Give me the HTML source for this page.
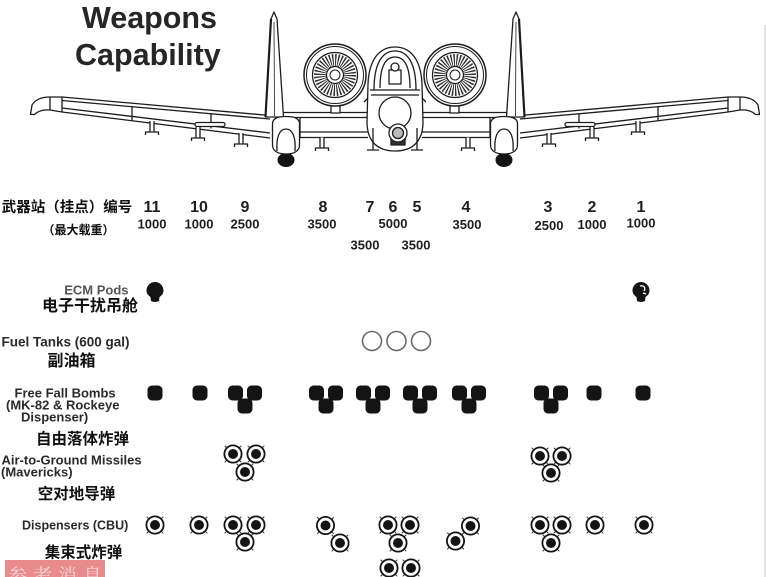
<!DOCTYPE html>
<html><head><meta charset="utf-8"><style>
html,body{margin:0;padding:0;background:#fff;width:766px;height:577px;overflow:hidden;}
svg{display:block;}
text{font-family:"Liberation Sans","Noto Sans CJK SC",sans-serif;font-weight:bold;}
</style></head><body>
<svg width="766" height="577" viewBox="0 0 766 577" xmlns="http://www.w3.org/2000/svg">
<defs>
  <g id="bm"><rect x="-7.5" y="-7.5" width="15" height="15" rx="4.5" fill="#141414"/></g>
  <g id="tri">
    <use href="#bm" x="-9.5" y="0"/><use href="#bm" x="9.5" y="0"/><use href="#bm" x="0" y="13"/>
  </g>
  <g id="c">
    <path d="M-6 -6 L-8.3 -8.3 M6 -6 L8.3 -8.3 M-6 6 L-8.3 8.3 M6 6 L8.3 8.3" stroke="#333" stroke-width="1" fill="none"/>
    <circle r="8.6" fill="#fff" stroke="#141414" stroke-width="1.8"/>
    <circle r="5" fill="#141414"/>
  </g>
  <g id="half" fill="none" stroke="#1c1c1c" stroke-width="1.3" stroke-linejoin="round">
    <path d="M62 97 L270 115.5 M62 100.5 L270 119 M62 108 L270 133 M62 112 L270 138"/>
    <path d="M62 97 L50 97 C41 97 35 100 32 105 L30.5 114.5 L34.5 114.5 C38 111 43 109.5 50 110 L62 112" fill="#fff"/>
    <path d="M50 97 L50 110 M62 97 L62 112 M132 106 L132 121 M211 113.5 L211 128.5"/>
    <path d="M270 112.5 L368 112.5 M283 117.5 L368 117.5 M300 132 L368 132 M300 137.5 L368 137.5 M300 117.5 L300 137.5"/>
    <path d="M274 12 L277 19 L283.5 117 L265.5 117 L271 19 Z" fill="#fff"/>
    <path d="M274 22 L274.5 116" stroke-width="0.8"/>
    <path d="M271 19 L265.5 117" stroke-width="2.2"/>
    <rect x="331" y="103" width="9" height="10" fill="#fff"/>
    <circle cx="335" cy="75" r="31" fill="#fff" stroke-width="1.5"/>
    <circle cx="335" cy="75" r="28.5" stroke-width="1"/>
    <circle cx="335" cy="75" r="22.5" stroke-width="1.2"/>
    <circle cx="335" cy="75" r="15" stroke="#2a2a2a" stroke-width="12" stroke-dasharray="1.2 1.418"/>
    <circle cx="335" cy="75" r="8.5" fill="#fff" stroke-width="1.2"/>
    <circle cx="335" cy="75" r="5" stroke-width="1"/>
    <ellipse cx="286" cy="160" rx="8.5" ry="7" fill="#141414" stroke="none"/>
    <path d="M272.5 124 C272.5 118 278 116.5 286 116.5 C294 116.5 299.5 118 299.5 124 L299.5 145 C299.5 151 294 154 286 154 C278 154 272.5 151 272.5 145 Z" fill="#fff"/>
    <path d="M277 151 C276 136 280 129 286 129 C292 129 296 136 295 151"/>
    <g fill="#fff">
      <path d="M150 121 V132 H154 V121 M145.5 135 V132 H158.5 V135"/>
      <rect x="195" y="122.5" width="30" height="4" rx="2"/>
      <path d="M196 127 V138 H200 V127 M191.5 141 V138 H204.5 V141"/>
      <path d="M239 133 V144 H243 V133 M234.5 147 V144 H247.5 V147"/>
      <path d="M320 137.5 V148 H324 V137.5 M315.5 151 V148 H328.5 V151"/>
    </g>
  </g>
</defs>

<text x="82" y="28" font-size="30.5" fill="#262626">Weapons</text>
<text x="75" y="65" font-size="30.5" fill="#262626">Capability</text>

<use href="#half"/>
<use href="#half" transform="translate(790,0) scale(-1,1)"/>
<g fill="none" stroke="#1c1c1c" stroke-width="1.3" stroke-linejoin="round">
  <path d="M395 47 C379 47 369 60 368 84 L367 122 C367 142 378 151 395 151 C412 151 423 142 423 122 L422 84 C421 60 411 47 395 47 Z" fill="#fff"/>
  <path d="M374 90 C374 62 383 51 395 51 C407 51 416 62 416 90"/>
  <path d="M380 88 C380 66 386 57 395 57 C404 57 410 66 410 88"/>
  <path d="M370 90 L420 90 M371 95 L419 95"/>
  <rect x="389" y="70" width="12" height="14" fill="#fff"/>
  <circle cx="395" cy="67" r="4" fill="#fff"/>
  <path d="M368 98 l-4 4 M422 98 l4 4"/>
  <circle cx="395" cy="113" r="16" fill="#fff"/>
  <rect x="391" y="139" width="14" height="6" fill="#333"/>
  <circle cx="398" cy="133" r="9" fill="#fff"/>
  <circle cx="398" cy="133" r="5.5" fill="#bbb"/>
  <path d="M373 128 V150 M367 150 H379 M417 128 V150 M411 150 H423"/>
</g>
<line x1="765" y1="25" x2="765" y2="577" stroke="#dcdcdc" stroke-width="1.5"/>

<text x="67" y="212" font-size="14.5" text-anchor="middle" fill="#111">武器站（挂点）编号</text>
<text x="78.5" y="234" font-size="12" text-anchor="middle" fill="#111">（最大载重）</text>

<g font-size="16" text-anchor="middle" fill="#1e1e1e">
  <text x="152" y="212">11</text>
  <text x="199" y="212">10</text>
  <text x="245" y="212">9</text>
  <text x="323" y="212">8</text>
  <text x="370" y="212">7</text>
  <text x="393" y="212">6</text>
  <text x="417" y="212">5</text>
  <text x="466" y="212">4</text>
  <text x="548" y="212">3</text>
  <text x="592" y="212">2</text>
  <text x="641" y="212">1</text>
</g>
<g font-size="13" text-anchor="middle" fill="#1e1e1e">
  <text x="152" y="228.5">1000</text>
  <text x="199" y="228.5">1000</text>
  <text x="245" y="228.5">2500</text>
  <text x="322" y="228.5">3500</text>
  <text x="393" y="228">5000</text>
  <text x="467" y="229">3500</text>
  <text x="549" y="230">2500</text>
  <text x="592" y="229">1000</text>
  <text x="641" y="227.5">1000</text>
  <text x="365" y="249.5">3500</text>
  <text x="416" y="249.5">3500</text>
</g>

<text x="128.5" y="294.3" font-size="13" text-anchor="end" fill="#555">ECM Pods</text>
<text x="90" y="311" font-size="16" text-anchor="middle" fill="#111">电子干扰吊舱</text>
<path d="M155 282 C160 282 163.5 286 163.5 290.5 C163.5 294 161 296 159.5 297 L159 301 Q155 303 151 301 L150.5 297 C149 296 146.5 294 146.5 290.5 C146.5 286 150 282 155 282 Z" fill="#141414"/>
<path d="M641 282 C646 282 649.5 286 649.5 290.5 C649.5 294 647 296 645.5 297 L645 301 Q641 303 637 301 L636.5 297 C635 296 632.5 294 632.5 290.5 C632.5 286 636 282 641 282 Z" fill="#141414"/>
<path d="M640 286 C644 285 646 288 644 291 M643 293 L646 294" stroke="#fff" stroke-width="1.3" fill="none"/>

<text x="1.5" y="346.7" font-size="13.5" fill="#2a2a2a">Fuel Tanks (600 gal)</text>
<text x="71.5" y="366" font-size="16" text-anchor="middle" fill="#111">副油箱</text>
<g fill="none" stroke="#6a6a6a" stroke-width="1.6">
  <circle cx="372" cy="341" r="9.5"/>
  <circle cx="396.5" cy="341" r="9.5"/>
  <circle cx="421" cy="341" r="9.5"/>
</g>

<g font-size="13" fill="#2a2a2a">
  <text x="14.5" y="397.3">Free Fall Bombs</text>
  <text x="6" y="409.3">(MK-82 &amp; Rockeye</text>
  <text x="21" y="421.3">Dispenser)</text>
</g>
<text x="82.5" y="444" font-size="15.5" text-anchor="middle" fill="#111">自由落体炸弹</text>
<use href="#bm" x="155" y="393"/>
<use href="#bm" x="200" y="393"/>
<use href="#tri" x="245" y="393"/>
<use href="#tri" x="326" y="393"/>
<use href="#tri" x="373" y="393"/>
<use href="#tri" x="420" y="393"/>
<use href="#tri" x="469" y="393"/>
<use href="#tri" x="551" y="393"/>
<use href="#bm" x="594" y="393"/>
<use href="#bm" x="643" y="393"/>

<g font-size="13" fill="#2a2a2a">
  <text x="1.5" y="464.3">Air-to-Ground Missiles</text>
  <text x="1" y="476.3">(Mavericks)</text>
</g>
<text x="76.5" y="499" font-size="15.5" text-anchor="middle" fill="#111">空对地导弹</text>
<use href="#c" x="233" y="454"/>
<use href="#c" x="256" y="454"/>
<use href="#c" x="245" y="472"/>
<use href="#c" x="540" y="456"/>
<use href="#c" x="562" y="456"/>
<use href="#c" x="551" y="473"/>

<text x="22" y="529.3" font-size="12.5" fill="#2a2a2a">Dispensers (CBU)</text>
<text x="83.5" y="557.5" font-size="15.5" text-anchor="middle" fill="#111">集束式炸弹</text>
<use href="#c" x="155" y="525"/>
<use href="#c" x="199" y="525"/>
<use href="#c" x="233" y="525"/>
<use href="#c" x="256" y="525"/>
<use href="#c" x="245" y="542"/>
<use href="#c" x="325.5" y="525.5"/>
<use href="#c" x="340" y="543"/>
<use href="#c" x="388" y="525"/>
<use href="#c" x="410" y="525"/>
<use href="#c" x="398" y="543"/>
<use href="#c" x="389" y="568"/>
<use href="#c" x="411" y="568"/>
<use href="#c" x="470.5" y="526"/>
<use href="#c" x="455.5" y="541"/>
<use href="#c" x="540" y="525"/>
<use href="#c" x="562" y="525"/>
<use href="#c" x="551" y="543"/>
<use href="#c" x="595" y="525"/>
<use href="#c" x="644" y="525"/>

<rect x="5" y="560" width="100" height="17" fill="#e98a8c"/>
<text x="8" y="582" font-size="19" letter-spacing="6" fill="#f7d6d6" style="font-family:'Noto Serif CJK SC','Noto Sans CJK SC',serif;font-weight:normal;">参考消息</text>
</svg>
</body></html>
